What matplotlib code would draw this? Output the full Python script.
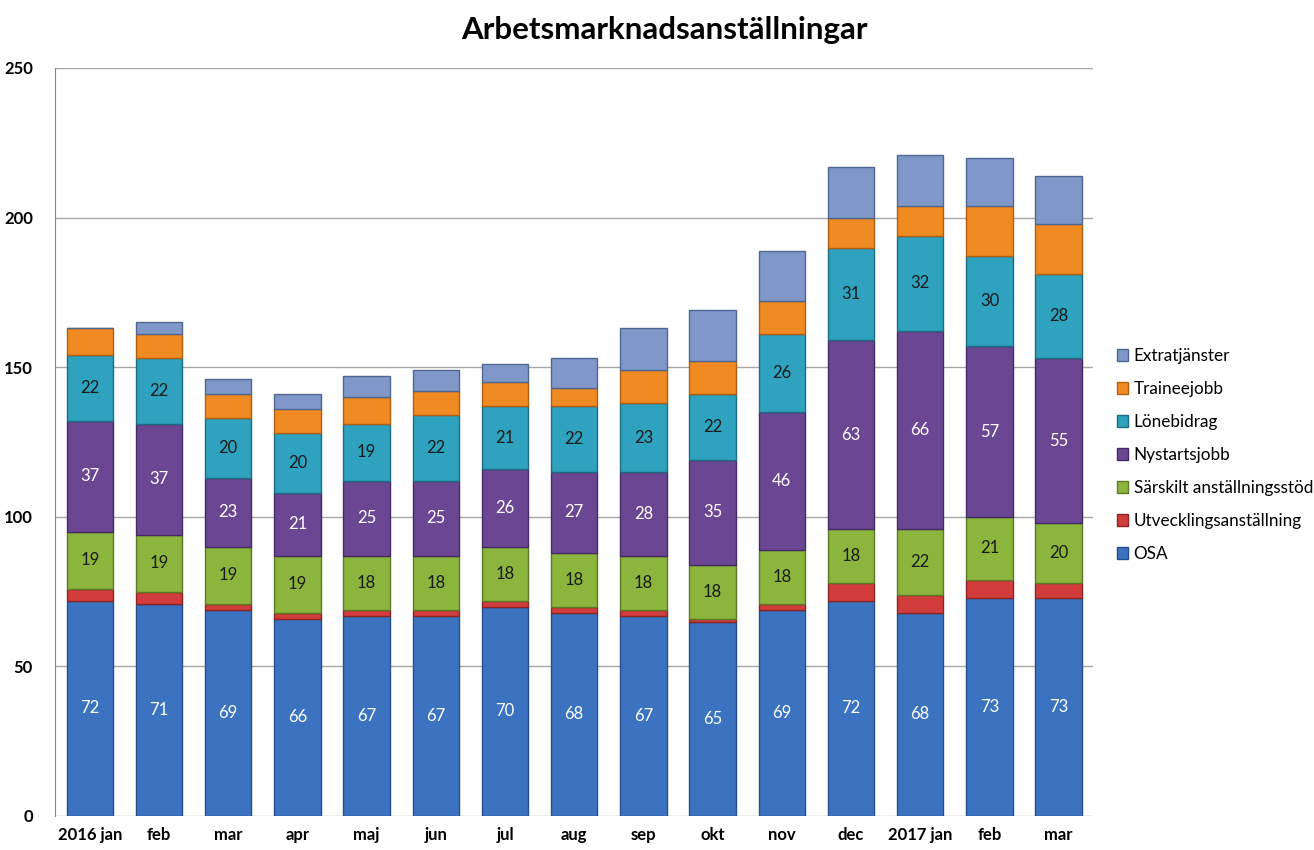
import numpy as np
import matplotlib
matplotlib.use("Agg")
import matplotlib.pyplot as plt

plt.rcParams['font.family'] = ['Lato', 'DejaVu Sans']

months = ["2016 jan", "feb", "mar", "apr", "maj", "jun", "jul", "aug", "sep",
          "okt", "nov", "dec", "2017 jan", "feb", "mar"]

osa = [72, 71, 69, 66, 67, 67, 70, 68, 67, 65, 69, 72, 68, 73, 73]
utveckling = [4, 4, 2, 2, 2, 2, 2, 2, 2, 1, 2, 6, 6, 6, 5]
sarskilt = [19, 19, 19, 19, 18, 18, 18, 18, 18, 18, 18, 18, 22, 21, 20]
nystart = [37, 37, 23, 21, 25, 25, 26, 27, 28, 35, 46, 63, 66, 57, 55]
lonebidrag = [22, 22, 20, 20, 19, 22, 21, 22, 23, 22, 26, 31, 32, 30, 28]
trainee = [9, 8, 8, 8, 9, 8, 8, 6, 11, 11, 11, 10, 10, 17, 17]
extra = [0, 4, 5, 5, 7, 7, 6, 10, 14, 17, 17, 17, 17, 16, 16]

series = [
    ("OSA", osa, "#3b73c0", "#234f8c", True, "white"),
    ("Utvecklingsanställning", utveckling, "#d23c3c", "#8e2323", False, None),
    ("Särskilt anställningsstöd", sarskilt, "#8cb53d", "#5c7a24", True, "#1a1a1a"),
    ("Nystartsjobb", nystart, "#6b4693", "#452b63", True, "white"),
    ("Lönebidrag", lonebidrag, "#2ea2be", "#1c6d82", True, "#1a1a1a"),
    ("Traineejobb", trainee, "#f08a22", "#b05e10", False, None),
    ("Extratjänster", extra, "#7f98c9", "#4f6690", False, None),
]

fig = plt.figure(figsize=(13.14, 8.5), dpi=100)
ax = fig.add_axes([0.042, 0.04, 0.79, 0.88])

x = np.arange(len(months))
width = 0.67
bottom = np.zeros(len(months))
handles = []
for name, vals, col, edge, show, tcol in series:
    vals = np.array(vals, dtype=float)
    b = ax.bar(x, vals, width, bottom=bottom, color=col, edgecolor=edge,
               linewidth=1.0, label=name, zorder=3)
    handles.append(b)
    if show:
        for xi, v, b0 in zip(x, vals, bottom):
            ax.text(xi, b0 + v / 2, f"{int(v)}", ha="center", va="center",
                    color=tcol, fontsize=12, zorder=4)
    bottom += vals

ax.set_xlim(-0.5, len(months) - 0.5)
ax.set_ylim(0, 250)
ax.set_yticks(np.arange(0, 251, 50))
ax.yaxis.grid(True, color="#a6a6a6", linewidth=1, zorder=0)
ax.set_axisbelow(True)
ax.set_xticks(x)
ax.set_xticklabels(months, fontweight="bold", fontsize=12)
for lbl in ax.get_yticklabels():
    lbl.set_fontweight("bold")
    lbl.set_fontsize(12)
ax.tick_params(axis="both", length=0, pad=8)
ax.tick_params(axis="y", pad=16)
for s in ["top", "right", "bottom"]:
    ax.spines[s].set_visible(False)
ax.spines["left"].set_color("#868686")

fig.text(0.506, 0.965, "Arbetsmarknadsanställningar", ha="center", va="center",
         fontsize=22.5, fontweight="bold")

fig.legend(handles[::-1], [s[0] for s in series][::-1], loc="center left",
           bbox_to_anchor=(0.838, 0.465), frameon=False, fontsize=12.3,
           handlelength=0.7, handleheight=0.7, handletextpad=0.3,
           labelspacing=1.0)

fig.savefig("out.png", dpi=100)
